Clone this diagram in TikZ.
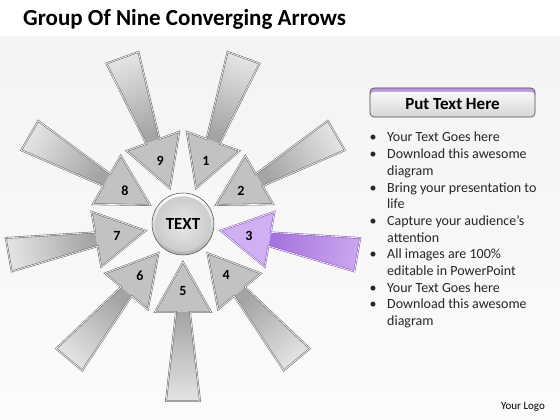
\documentclass[tikz,border=0pt]{standalone}
\usepackage{fontspec}
\setmainfont{Carlito}
\usetikzlibrary{calc}
\definecolor{gh}{HTML}{C2C2C2}
\definecolor{gd}{HTML}{A4A4A4}
\definecolor{gl}{HTML}{E4E4E4}
\definecolor{go}{HTML}{707070}
\definecolor{ph}{HTML}{CFB0F2}
\definecolor{pd}{HTML}{A574DE}
\definecolor{pl}{HTML}{CAA6EE}
\definecolor{po}{HTML}{8E60C4}
\definecolor{band}{HTML}{B99BDC}
\tikzset{
  arrowline/.style={draw=#1, line width=0.6pt, double=white, double distance=0.6pt, line join=miter},
  numlabel/.style={font=\bfseries\fontsize{14}{16}\selectfont, inner sep=0pt},
  listtext/.style={font=\fontsize{14}{16}\selectfont, anchor=base west, inner sep=0pt, text=black!85},
}
\begin{document}
\begin{tikzpicture}[x=1pt,y=1pt]
\useasboundingbox (0,0) rectangle (560,420);
\fill[white] (0,383) rectangle (560,420);
\shade[top color=gray!9, bottom color=gray!3] (0,0) rectangle (560,383);
\node[anchor=base west, font=\bfseries\fontsize{23}{27}\selectfont, inner sep=0pt] (title) at (23,394) {Group Of Nine Converging Arrows};

\coordinate (C) at (183,196);
\foreach \n/\a/\hc/\dc/\lc/\oc in {1/70/gh/gd/gl/go, 2/30/gh/gd/gl/go, 3/-10/ph/pd/pl/po, 4/-50/gh/gd/gl/go, 5/-90/gh/gd/gl/go, 6/-130/gh/gd/gl/go, 7/-170/gh/gd/gl/go, 8/150/gh/gd/gl/go, 9/110/gh/gd/gl/go}{
  \pgfmathsetmacro\sa{\a-90}
  \pgfmathsetmacro\al{\a+90}
  \pgfmathsetmacro\ar{\a-90}
  \coordinate (t\n) at ($(C)+(\a:38)$);
  \coordinate (hl\n) at ($(C)+(\a:88)+(\al:28)$);
  \coordinate (hr\n) at ($(C)+(\a:88)+(\ar:28)$);
  \coordinate (jl\n) at ($(C)+(\a:88)+(\al:7)$);
  \coordinate (jr\n) at ($(C)+(\a:88)+(\ar:7)$);
  \coordinate (ol\n) at ($(C)+(\a:177)+(\al:17)$);
  \coordinate (or\n) at ($(C)+(\a:177)+(\ar:17)$);
  \shade[top color=\lc, bottom color=\dc, shading angle=\sa] (jl\n) -- (ol\n) -- (or\n) -- (jr\n) -- cycle;
  \fill[\hc] (t\n) -- (hl\n) -- (hr\n) -- cycle;
  \draw[arrowline=\oc] (t\n) -- (hl\n) -- (jl\n) -- (ol\n) -- (or\n) -- (jr\n) -- (hr\n) -- cycle;
  \node[numlabel] (n\n) at ($(C)+(\a:67)$) {\n};
}

% hub
\shade[top color=white, bottom color=gray!60] (C) circle (31);
\draw[gray!55!black, line width=0.5pt] (C) circle (31);
\shade[inner color=gray!18, outer color=gray!40] (C) circle (27.5);
\draw[white!60!gray, line width=0.4pt] (C) circle (27.5);
\node[circle, minimum size=62pt, inner sep=0pt, font=\bfseries\fontsize{17}{20}\selectfont] (hub) at (C) {TEXT};

% button
\fill[band, rounded corners=4pt] (370,318) rectangle (535,332);
\shade[rounded corners=4pt, top color=gray!6, bottom color=gray!32] (370,303) rectangle (535,328);
\draw[gray!60!black, line width=0.6pt, rounded corners=4pt] (370,303) rectangle (535,332);
\node[font=\bfseries\fontsize{17}{20}\selectfont, inner sep=0pt] (btn) at (452.5,316) {Put Text Here};

% list
\foreach \i/\b/\t in {0/1/Your Text Goes here, 1/1/Download this awesome, 2/0/diagram, 3/1/Bring your presentation to, 4/0/life, 5/1/Capture your audience’s, 6/0/attention, 7/1/All images are 100\%, 8/0/editable in PowerPoint, 9/1/Your Text Goes here, 10/1/Download this awesome, 11/0/diagram}{
  \pgfmathsetmacro\yy{278-16.7*\i}
  \node[listtext] (l\i) at (387,\yy) {\t};
  \ifnum\b=1 \node[listtext] (b\i) at (369.5,\yy) {•}; \fi
}

\node[font=\fontsize{11}{13}\selectfont, inner sep=0pt] (logo) at (523,13) {Your Logo};
\end{tikzpicture}
\end{document}
